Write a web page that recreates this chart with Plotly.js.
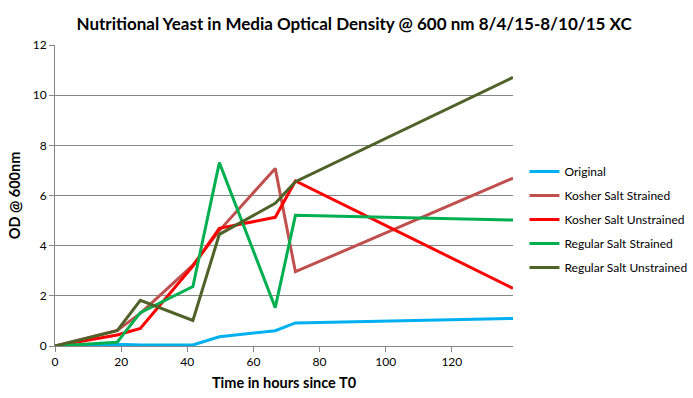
<!DOCTYPE html>
<html>
<head>
<meta charset="utf-8">
<script src="https://cdn.plot.ly/plotly-3.0.1.min.js"></script>
<style>html,body{margin:0;padding:0;background:#fff;}#chart{width:693px;height:398px;}</style>
</head>
<body>
<div id="chart"></div>
<script>
const hours = [0, 18.8, 25.8, 41.7, 49.7, 66.6, 72.7, 138.5];
const seriesNames = ["Original", "Kosher Salt Strained", "Kosher Salt Unstrained", "Regular Salt Strained", "Regular Salt Unstrained"];
const original = [0, 0.07, 0.04, 0.04, 0.37, 0.61, 0.92, 1.1];
const kosherStrained = [0, 0.62, 1.3, 3.22, 4.6, 7.08, 2.96, 6.69];
const kosherUnstrained = [0, 0.44, 0.70, 3.19, 4.69, 5.13, 6.58, 2.30];
const regularStrained = [0, 0.15, 1.33, 2.37, 7.31, 1.53, 5.21, 5.02];
const regularUnstrained = [0, 0.61, 1.82, 1.02, 4.45, 5.69, 6.55, 10.71];
const colors = ["#00B0F0", "#C0504D", "#FF0000", "#00B050", "#4F6228"];
const xTicks = [0, 20, 40, 60, 80, 100, 120];
const yTicks = [0, 2, 4, 6, 8, 10, 12];

const values = [original, kosherStrained, kosherUnstrained, regularStrained, regularUnstrained];
const traces = values.map((v, i) => ({
  x: hours, y: v, type: "scatter", mode: "lines", name: seriesNames[i],
  legendgroup: "g" + i,
  line: {color: colors[i], width: 3}
}));

const font = {family: "Lato, 'Open Sans', sans-serif", color: "#000"};
const layout = {
  width: 693, height: 398,
  margin: {l: 54.5, r: 180, t: 45, b: 52, autoexpand: false},
  paper_bgcolor: "#fff", plot_bgcolor: "#fff",
  font: Object.assign({size: 12}, font),
  title: {text: "<b>Nutritional Yeast in Media Optical Density @ 600 nm 8/4/15-8/10/15 XC</b>",
          font: Object.assign({size: 17}, font), x: 0.511, xref: "container", xanchor: "center", y: 0.955, yref: "container"},
  xaxis: {range: [0, 138.5], tickvals: xTicks, showgrid: false, zeroline: false,
          showline: true, linecolor: "#868686", linewidth: 1,
          ticks: "outside", ticklen: 5, tickcolor: "#868686",
          tickfont: Object.assign({size: 12}, font),
          title: {text: "<b>Time in hours since T0</b>", font: Object.assign({size: 14.5}, font), standoff: 9}},
  yaxis: {range: [0, 12], tickvals: yTicks, showgrid: true, gridcolor: "#868686", gridwidth: 1,
          zeroline: false, showline: true, linecolor: "#868686", linewidth: 1,
          ticks: "outside", ticklen: 5, tickcolor: "#868686",
          tickfont: Object.assign({size: 12}, font),
          title: {text: "<b>OD @ 600nm</b>", font: Object.assign({size: 14.5}, font), standoff: 8}},
  legend: {x: 1.025, xref: "paper", xanchor: "left", y: 0.42, yanchor: "middle", traceorder: "grouped", tracegroupgap: 5,
           font: Object.assign({size: 12}, font), bgcolor: "rgba(0,0,0,0)"},
  showlegend: true
};
Plotly.newPlot("chart", traces, layout, {displayModeBar: false, staticPlot: true});
</script>
</body>
</html>
